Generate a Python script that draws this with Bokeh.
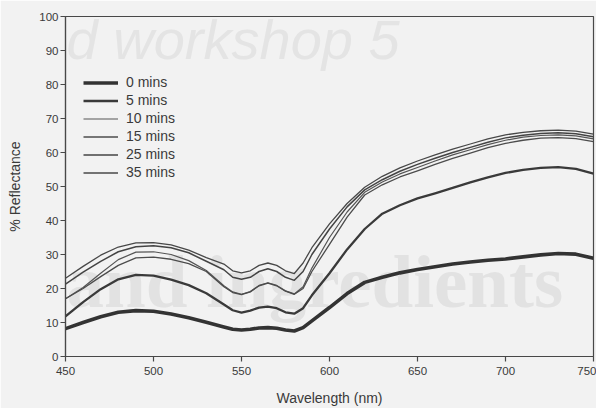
from bokeh.plotting import figure
from bokeh.models import Legend, LegendItem, Label, FixedTicker
from bokeh.embed import file_html
from bokeh.resources import INLINE

wavelength = [450, 460, 470, 480, 490, 500, 510, 520, 530, 540, 545, 550, 555, 560, 565, 570,
              575, 580, 585, 590, 600, 610, 620, 630, 640, 650, 660, 670, 680, 690, 700, 710,
              720, 730, 740, 750]

r_0 = [8.2, 10.0, 11.7, 13.0, 13.5, 13.3, 12.5, 11.4, 10.1, 8.7, 8.0, 7.8, 8.0, 8.4, 8.5, 8.3,
       7.8, 7.5, 8.5, 10.5, 14.4, 18.5, 21.8, 23.3, 24.6, 25.6, 26.4, 27.2, 27.8, 28.3, 28.7, 29.3,
       29.9, 30.3, 30.1, 28.9]
r_5 = [11.8, 16.0, 19.8, 22.7, 24.0, 23.8, 22.6, 21.0, 18.6, 15.3, 13.6, 12.9, 13.5, 14.4, 14.7, 14.2,
       13.0, 12.6, 14.2, 18.0, 24.5, 31.5, 37.5, 42.0, 44.5, 46.5, 48.0, 49.6, 51.2, 52.7, 54.0, 54.9,
       55.5, 55.7, 55.2, 53.8]
r_10 = [17.0, 20.3, 24.5, 28.5, 30.7, 30.8, 30.0, 28.2, 25.3, 20.8, 19.0, 18.3, 19.1, 20.9, 21.7, 20.9,
        19.3, 18.4, 20.5, 26.0, 35.0, 42.5, 48.3, 51.3, 53.7, 55.6, 57.5, 59.3, 60.8, 62.3, 63.6, 64.5,
        65.0, 65.2, 64.9, 64.0]
r_15 = [17.0, 20.0, 23.5, 26.8, 29.0, 29.2, 28.6, 27.3, 25.0, 20.5, 18.8, 18.2, 19.0, 20.8, 21.6, 20.8,
        19.2, 18.3, 20.0, 25.0, 33.0, 41.0, 47.5, 50.5, 52.8, 54.6, 56.5, 58.3, 59.8, 61.4, 62.7, 63.6,
        64.2, 64.4, 64.1, 63.2]
r_25 = [21.3, 24.8, 28.0, 30.8, 32.3, 32.6, 32.0, 30.5, 28.0, 25.5, 23.3, 22.7, 23.3, 25.0, 25.8, 25.0,
        23.3, 22.4, 25.0, 30.0, 37.5, 44.0, 49.0, 52.0, 54.5, 56.5, 58.3, 60.0, 61.5, 63.0, 64.3, 65.1,
        65.6, 65.8, 65.5, 64.6]
r_35 = [23.0, 26.5, 29.8, 32.2, 33.4, 33.5, 32.8, 31.3, 29.1, 27.2, 25.2, 24.6, 25.2, 26.8, 27.5, 26.8,
        25.2, 24.4, 27.5, 32.0, 39.0, 45.0, 49.8, 53.0, 55.5, 57.5, 59.3, 61.0, 62.5, 64.0, 65.2, 65.9,
        66.4, 66.6, 66.3, 65.4]

series_labels = ["0 mins", "5 mins", "10 mins", "15 mins", "25 mins", "35 mins"]
series_values = [r_0, r_5, r_10, r_15, r_25, r_35]
line_widths = [3.6, 2.3, 1.2, 1.3, 1.5, 1.3]
line_colors = ["#333333", "#3a3a3a", "#555555", "#4c4c4c", "#444444", "#484848"]

x_ticks = [450, 500, 550, 600, 650, 700, 750]
y_ticks = [0, 10, 20, 30, 40, 50, 60, 70, 80, 90, 100]

bg = "#f2f2f2"
axis_col = "#484848"
text_col = "#3a3a3a"
font = "Liberation Sans"

p = figure(width=596, height=408, x_range=(450, 750), y_range=(0, 100),
           output_backend="svg", toolbar_location=None,
           min_border_left=65, min_border_right=3, min_border_top=16, min_border_bottom=52)
p.background_fill_color = bg
p.border_fill_color = bg
p.outline_line_color = axis_col
p.outline_line_width = 1.2
p.xgrid.visible = False
p.ygrid.visible = False

# faint bleed-through text of the scanned page
p.add_layout(Label(x=450.6, y=84.0, text="d workshop 5", text_font=font,
                   text_font_style="italic", text_font_size="56px", text_color="#e4e4e4",
                   level="underlay"))
p.add_layout(Label(x=450.6, y=10.0, text="and ingredients", text_font="Liberation Serif",
                   text_font_style="bold", text_font_size="75px", text_color="#e2e2e2",
                   level="underlay"))

renderers = []
for vals, w, c in zip(series_values, line_widths, line_colors):
    r = p.line(wavelength, vals, line_width=w, line_color=c, line_join="round")
    renderers.append(r)

legend = Legend(items=[LegendItem(label=l, renderers=[r]) for l, r in zip(series_labels, renderers)],
                location=(18, 176), glyph_width=35, glyph_height=15, label_height=15,
                spacing=2, padding=0, margin=0, label_standoff=8,
                label_text_font=font, label_text_font_size="14px", label_text_color=text_col,
                background_fill_alpha=0, border_line_alpha=0)
p.add_layout(legend)

for ax in (p.xaxis, p.yaxis):
    ax.axis_line_color = axis_col
    ax.axis_line_width = 1.2
    ax.major_tick_line_color = axis_col
    ax.major_tick_line_width = 1.2
    ax.major_tick_out = 5
    ax.major_tick_in = 0
    ax.minor_tick_line_color = None
    ax.major_label_text_font = font
    ax.major_label_text_font_size = "11.5px"
    ax.major_label_text_color = text_col
    ax.axis_label_text_font = font
    ax.axis_label_text_font_size = "14px"
    ax.axis_label_text_font_style = "normal"
    ax.axis_label_text_color = text_col

p.xaxis.ticker = FixedTicker(ticks=x_ticks)
p.yaxis.ticker = FixedTicker(ticks=y_ticks)
p.xaxis.axis_label = "Wavelength (nm)"
p.yaxis.axis_label = "% Reflectance"
p.xaxis.major_label_standoff = 5
p.yaxis.major_label_standoff = 2
p.xaxis.axis_label_standoff = 12
p.yaxis.axis_label_standoff = 13

open("out.html", "w").write(file_html(p, INLINE))
